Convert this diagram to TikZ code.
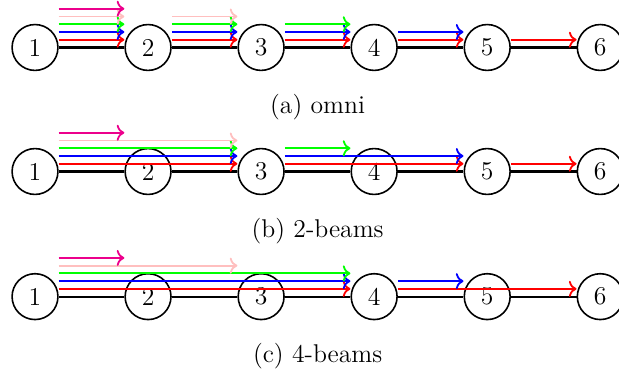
\documentclass[tikz,border=0pt]{standalone}
\usepackage{xcolor}
\usepackage{tikz}
\usetikzlibrary{arrows.meta,calc}
\definecolor{beamred}{HTML}{FF0000}
\definecolor{beamblue}{HTML}{0000FF}
\definecolor{beamgreen}{HTML}{00FF00}
\definecolor{beampink}{HTML}{FFBFBF}
\definecolor{beammag}{HTML}{EC008C}
\begin{document}
\begin{tikzpicture}[font=\fontsize{11.3pt}{13.6pt}\selectfont,>=To]
\tikzset{station/.style={circle,draw=black,line width=0.7pt,minimum size=0.71cm,inner sep=0pt}, link/.style={draw=black,line width=1.0pt}, beam1/.style={draw=beamred}, beam2/.style={draw=beamblue}, beam3/.style={draw=beamgreen}, beam4/.style={draw=beampink}, beam5/.style={draw=beammag}}
\useasboundingbox (-0.542,-5.07) rectangle (9.04,0.735);
\foreach \r/\y/\cap in {a/0/omni,b/-1.92/2-beams,c/-3.857/4-beams} {
  \foreach \i in {1,...,6} {
    \node[station] (\r\i) at ({1.75*(\i-1)},\y) {\i};
  }
  \foreach \i [evaluate=\i as \j using int(\i+1)] in {1,...,5} {
    \draw[link] (\r\i) -- (\r\j);
  }
  \node (\r cap) at (4.375,\y-0.92) {(\r) \cap};
}
% beams: row/from/to/level
\foreach \r/\s/\t/\l in {a/1/2/1,a/1/2/2,a/1/2/3,a/1/2/4,a/1/2/5,a/2/3/1,a/2/3/2,a/2/3/3,a/2/3/4,a/3/4/1,a/3/4/2,a/3/4/3,a/4/5/1,a/4/5/2,a/5/6/1,
  b/1/3/1,b/1/3/2,b/1/3/3,b/1/3/4,b/1/2/5,b/3/5/1,b/3/5/2,b/3/4/3,b/5/6/1,
  c/1/4/1,c/1/4/2,c/1/4/3,c/1/3/4,c/1/2/5,c/4/6/1,c/4/5/2} {
  \draw[->,beam\l,line width=0.8pt] ($(\r\s.east)+(0,0.12*\l)$) -- ($(\r\t.west)+(0,0.12*\l)$);
}
\end{tikzpicture}
\end{document}
